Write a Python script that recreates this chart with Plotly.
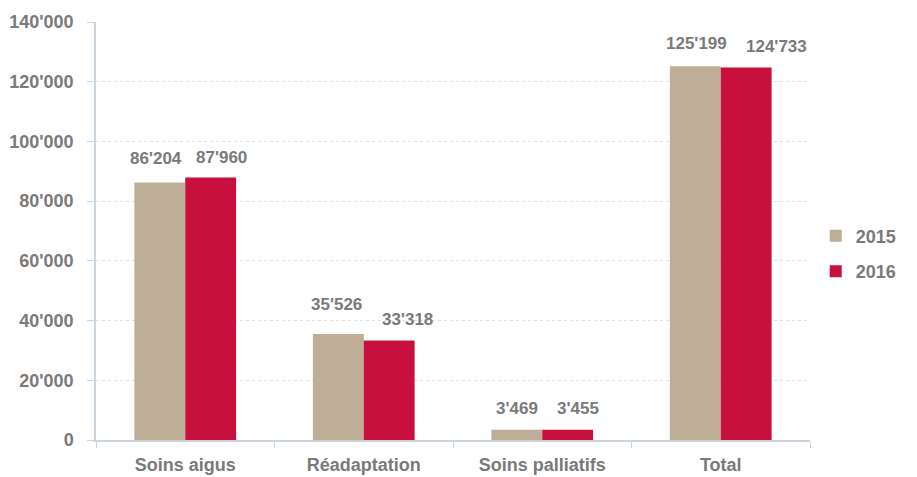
import plotly.graph_objects as go

categories = ["Soins aigus", "Réadaptation", "Soins palliatifs", "Total"]
years = ["2015", "2016"]
values_2015 = [86204, 35526, 3469, 125199]
values_2016 = [87960, 33318, 3455, 124733]
y_ticks = [0, 20000, 40000, 60000, 80000, 100000, 120000, 140000]

colors = {"2015": "#BEAD97", "2016": "#C8103E"}
text_gray = "#7A7A7A"
axis_color = "#C9D4DF"
font_family = "Liberation Sans Narrow, Arial Narrow, Liberation Sans, Arial, sans-serif"

fig = go.Figure()
for year, vals in zip(years, [values_2015, values_2016]):
    fig.add_trace(go.Bar(
        x=categories, y=vals, name=year, legendgroup=year,
        marker=dict(color=colors[year], line=dict(width=0)),
    ))

# value labels above each bar, formatted with the apostrophe separator;
# a few labels are nudged sideways / upwards so they do not collide
bar_offset = 25.5
label_nudge = {
    ("Soins aigus", "2015"): (-4, 3), ("Soins aigus", "2016"): (11, -1),
    ("Réadaptation", "2015"): (-2, 8), ("Réadaptation", "2016"): (18, 0),
    ("Soins palliatifs", "2015"): (0, 0), ("Soins palliatifs", "2016"): (10, 0),
    ("Total", "2015"): (1, 2), ("Total", "2016"): (30, 0),
}
for i, (year, vals) in enumerate(zip(years, [values_2015, values_2016])):
    shift = -bar_offset if i == 0 else bar_offset
    for cat, v in zip(categories, vals):
        dx, dy = label_nudge[(cat, year)]
        fig.add_annotation(
            x=cat, y=v, text=f"{v:,}".replace(",", "'"),
            xshift=shift + dx, yshift=21 + dy, yanchor="middle", showarrow=False,
            font=dict(family=font_family, size=17, color=text_gray, weight="bold"),
        )

fig.update_layout(
    width=917, height=477,
    margin=dict(l=96, r=107, t=22, b=37),
    paper_bgcolor="white", plot_bgcolor="white",
    separators=".'",
    barmode="group", bargap=0.43, bargroupgap=0,
    font=dict(family=font_family, size=18, color=text_gray, weight="bold"),
    showlegend=True,
    legend=dict(
        x=1.008, y=0.446, xanchor="left", yanchor="middle",
        font=dict(family=font_family, size=18, color=text_gray, weight="bold"),
        tracegroupgap=9, traceorder="grouped",
    ),
)
fig.update_xaxes(
    automargin=False,
    showline=True, linecolor=axis_color, linewidth=1.5,
    ticks="outside", tickson="boundaries", ticklen=6, tickcolor=axis_color,
    ticklabelstandoff=8,
    tickfont=dict(family=font_family, size=18, color=text_gray, weight="bold"),
    showgrid=False,
)
fig.update_yaxes(
    automargin=False,
    range=[0, 140000], tickvals=y_ticks, tickformat=",d",
    showline=True, linecolor=axis_color, linewidth=1.5,
    ticks="outside", ticklen=7, tickcolor=axis_color,
    ticklabelstandoff=10,
    tickfont=dict(family=font_family, size=18, color=text_gray, weight="bold"),
    showgrid=True, gridcolor="#DCE1E6", griddash="dot", gridwidth=1,
    zeroline=False,
)

fig.write_html("out.html")
